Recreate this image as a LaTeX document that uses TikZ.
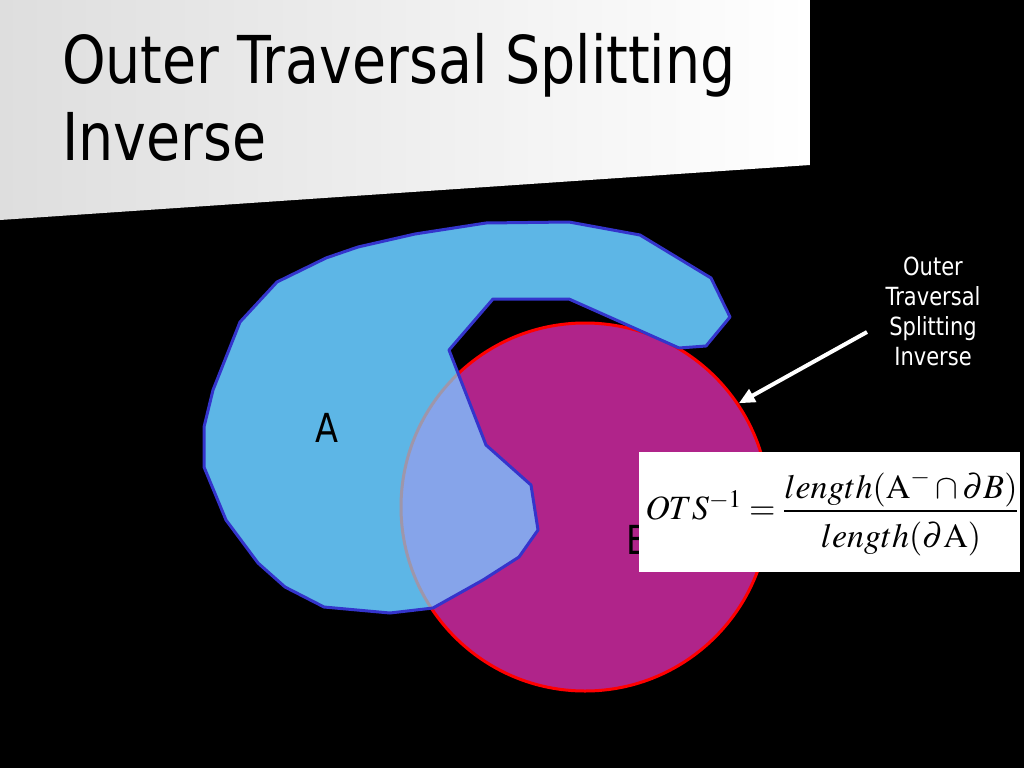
\RequirePackage{fix-cm}
\documentclass[tikz,border=0pt]{standalone}
\usepackage{amsmath}
\usepackage{mathptmx}
\usepackage[no-math]{fontspec}
\setmainfont{DejaVu Sans}[FakeStretch=0.84]
\usepackage{tikz}
\usetikzlibrary{arrows.meta}

\definecolor{titelgrau}{RGB}{222,222,222}
\definecolor{afill}{RGB}{93,182,230}
\definecolor{aline}{RGB}{52,52,204}
\definecolor{bfill}{RGB}{176,36,138}
\definecolor{schnitt}{RGB}{134,164,234}
\definecolor{bogen}{RGB}{158,150,170}

\newcommand{\umrissA}{(277,282) -- (326,258) -- (358,247) -- (415,234) -- (486,223)
  -- (569,222) -- (640,235) -- (711,278) -- (730,317) -- (706,346) -- (679,348)
  -- (569,299) -- (493,299) -- (449,350) -- (486,445) -- (531,485) -- (538,530)
  -- (519,557) -- (483,580) -- (433,608) -- (390,613) -- (324,607) -- (285,587)
  -- (258,563) -- (226,520) -- (204,467) -- (204,427) -- (213,390) -- (240,322) -- cycle}
\newcommand{\tief}[2]{\raisebox{-#1}[\height][\depth]{$\displaystyle #2$}}

\begin{document}
\begin{tikzpicture}[x=1pt,y=-1pt]
\useasboundingbox (0,0) rectangle (1024,768);
\fill[black] (0,0) rectangle (1024,768);

%Titelfeld
\shade[left color=titelgrau, right color=white] (0,0) -- (810,0) -- (810,165) -- (0,220) -- cycle;
\node[anchor=base west, inner sep=0, font=\fontsize{66}{77}\selectfont] (T1) at (62,83) {Outer Traversal Splitting};
\node[anchor=base west, inner sep=0, font=\fontsize{66}{77}\selectfont] (T2) at (62,160) {Inverse};

%Kreis B
\node[circle, draw=red, line width=3pt, fill=bfill, minimum size=368pt, inner sep=0] (B) at (585,507) {};

%Flaeche A mit Schnittmenge
\fill[afill] \umrissA;
\begin{scope}
\clip \umrissA;
\clip (0,0) rectangle (545,768);
\fill[schnitt] (B.center) circle[radius=184pt];
\draw[bogen, line width=3pt] (B.center) circle[radius=184pt];
\end{scope}
\draw[aline, line width=3pt, line join=round] \umrissA;

\node[inner sep=0, font=\fontsize{40}{44}\selectfont] (labA) at (327,428) {A};
\node[inner sep=0, font=\fontsize{40}{44}\selectfont] (labB) at (638,540) {B};

%Formel
\node[fill=white, minimum width=381pt, minimum height=120pt, inner sep=0, font=\fontsize{34}{40}\selectfont] (ots) at (829.5,512)
  {\hspace*{5pt}$OTS^{-1} = \dfrac{\tief{2pt}{length(\mathrm{A}^{-}\cap\partial B)}}{\tief{5pt}{length(\partial\mathrm{A})}}$};

%Beschriftung mit Pfeil
\node[white, align=center, inner sep=0, font=\fontsize{25}{30}\selectfont] (note) at (933,311) {Outer\\Traversal\\Splitting\\Inverse};
\coordinate (tail) at (867,332);
\draw[white, line width=4pt, -{Triangle[length=16pt,width=14pt]}] (tail) -- (B.34);
\end{tikzpicture}
\end{document}
